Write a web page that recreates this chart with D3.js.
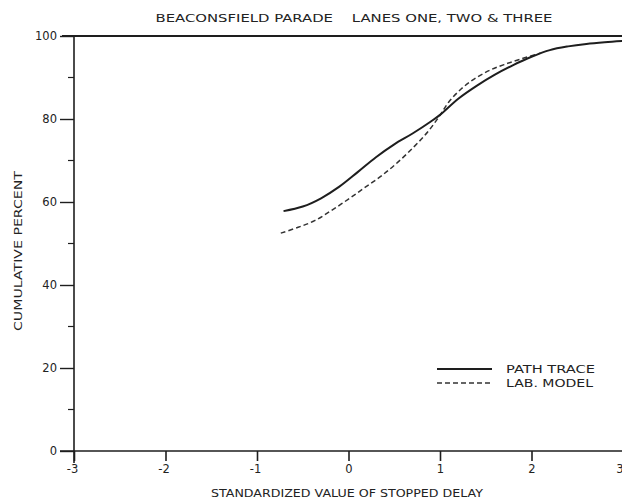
<!DOCTYPE html>
<html>
<head>
<meta charset="utf-8">
<script src="https://cdn.jsdelivr.net/npm/d3@7"></script>
<style>
  html, body { margin: 0; padding: 0; background: #fff; }
  svg { display: block; }
  text { font-family: "DejaVu Sans", sans-serif; fill: #222; }
</style>
</head>
<body>
<svg id="chart" width="622" height="502"></svg>
<script>
// ---- data ----
const pathTraceX = [-0.71, -0.5, -0.3, -0.1, 0.1, 0.3, 0.5, 0.7, 0.9, 1.0, 1.2, 1.4, 1.6, 1.8, 2.0, 2.2, 2.4, 2.6, 2.8, 3.0];
const pathTraceY = [57.8, 58.9, 60.9, 63.7, 67.2, 70.8, 73.9, 76.5, 79.4, 81.0, 84.9, 88.0, 90.7, 93.0, 95.0, 96.6, 97.5, 98.1, 98.5, 98.8];
const labModelX = [-0.74, -0.55, -0.37, -0.19, 0.0, 0.18, 0.36, 0.54, 0.72, 0.87, 1.0, 1.1, 1.25, 1.4, 1.55, 1.70, 1.89, 2.1];
const labModelY = [52.5, 53.9, 55.5, 57.9, 60.7, 63.5, 66.3, 69.6, 73.4, 77.0, 80.9, 84.2, 87.6, 90.0, 91.8, 93.1, 94.5, 95.9];
const xTicks = [-3, -2, -1, 0, 1, 2, 3];
const yMajorTicks = [0, 20, 40, 60, 80, 100];
const yMinorTicks = [10, 30, 50, 70, 90];
const titleText = "BEACONSFIELD PARADE    LANES ONE, TWO & THREE";
const xTitle = "STANDARDIZED VALUE OF STOPPED DELAY";
const yTitle = "CUMULATIVE PERCENT";
const legendNames = ["PATH TRACE", "LAB. MODEL"];

const svg = d3.select("#chart");
const ink = "#1e1e1e";

const x = d3.scaleLinear().domain([-3, 3]).range([74, 623]);
const y = d3.scaleLinear().domain([0, 100]).range([451, 36]);

// top frame line
svg.append("line")
  .attr("x1", 62).attr("x2", 622)
  .attr("y1", y(100)).attr("y2", y(100))
  .attr("stroke", ink).attr("stroke-width", 2);

// x axis
const xAxis = d3.axisBottom(x).tickValues(xTicks)
  .tickFormat(d => d < 0 ? "-" + Math.abs(d) : d)
  .tickSize(10).tickPadding(4);
const gx = svg.append("g").attr("transform", `translate(0,${y(0)})`).call(xAxis);
gx.select(".domain").attr("d", `M60,0H622`).attr("stroke", ink).attr("stroke-width", 1.6);
gx.selectAll(".tick line").attr("stroke", ink).attr("stroke-width", 1.6);
gx.selectAll(".tick text").attr("font-size", 11.5).attr("fill", ink)
  .attr("font-family", "DejaVu Sans, sans-serif")
  .attr("text-anchor", d => d === 3 ? "end" : "middle")
  .attr("dx", d => d === 3 ? 0 : (d < 0 ? -2 : 0));

// y axis
const yAxis = d3.axisLeft(y).tickValues(yMajorTicks).tickSize(14).tickPadding(3);
const gy = svg.append("g").attr("transform", `translate(${x(-3)},0)`).call(yAxis);
gy.select(".domain").attr("d", `M0,${y(100)}V${y(0) + 12}`).attr("stroke", ink).attr("stroke-width", 1.6);
gy.selectAll(".tick line").attr("stroke", ink).attr("stroke-width", 1.4);
gy.selectAll(".tick text").attr("font-size", 11.5).attr("fill", ink)
  .attr("font-family", "DejaVu Sans, sans-serif");
gy.selectAll(".minor").data(yMinorTicks).enter().append("line")
  .attr("class", "minor")
  .attr("x1", -6).attr("x2", 0)
  .attr("y1", d => y(d)).attr("y2", d => y(d))
  .attr("stroke", ink).attr("stroke-width", 1.2);

// lines
const lineGen = d3.line().x(d => x(d[0])).y(d => y(d[1])).curve(d3.curveCatmullRom.alpha(0.5));
const pathData = pathTraceX.map((v, i) => [v, pathTraceY[i]]);
const labData = labModelX.map((v, i) => [v, labModelY[i]]);

svg.append("path").attr("d", lineGen(labData))
  .attr("fill", "none").attr("stroke", "#333").attr("stroke-width", 1.5)
  .attr("stroke-dasharray", "5,3");
svg.append("path").attr("d", lineGen(pathData))
  .attr("fill", "none").attr("stroke", ink).attr("stroke-width", 2);

// titles
svg.append("text").attr("x", 354).attr("y", 22)
  .attr("text-anchor", "middle").attr("font-size", 11)
  .attr("xml:space", "preserve").style("white-space", "pre")
  .attr("textLength", 397).attr("lengthAdjust", "spacingAndGlyphs")
  .text(titleText);

svg.append("text").attr("x", 347).attr("y", 497)
  .attr("text-anchor", "middle").attr("font-size", 11)
  .attr("textLength", 272).attr("lengthAdjust", "spacingAndGlyphs")
  .text(xTitle);

svg.append("text")
  .attr("transform", `translate(22,251) rotate(-90)`)
  .attr("text-anchor", "middle").attr("font-size", 11)
  .attr("textLength", 160).attr("lengthAdjust", "spacingAndGlyphs")
  .text(yTitle);

// legend
const legend = svg.append("g");
const legY = [369, 383];
legend.append("line").attr("x1", 437).attr("x2", 492).attr("y1", legY[0]).attr("y2", legY[0])
  .attr("stroke", ink).attr("stroke-width", 2);
legend.append("line").attr("x1", 437).attr("x2", 492).attr("y1", legY[1]).attr("y2", legY[1])
  .attr("stroke", "#333").attr("stroke-width", 1.5).attr("stroke-dasharray", "5,3");
legend.selectAll("text.leg").data(legendNames).enter().append("text")
  .attr("class", "leg")
  .attr("x", 506).attr("y", (d, i) => legY[i] + 4)
  .attr("font-size", 11)
  .attr("textLength", (d, i) => i === 0 ? 89 : 87).attr("lengthAdjust", "spacingAndGlyphs")
  .text(d => d);
</script>
</body>
</html>
